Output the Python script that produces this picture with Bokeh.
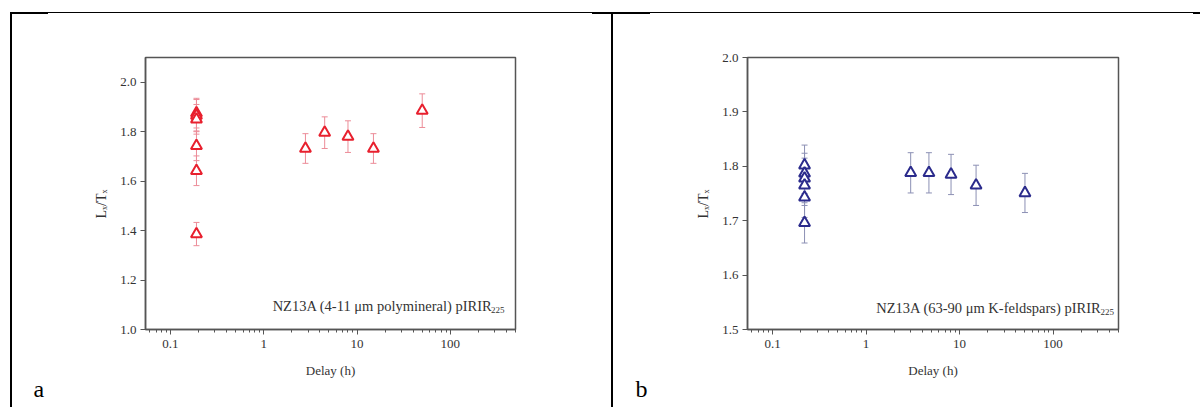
import math
from bokeh.plotting import figure
from bokeh.models import (ColumnDataSource, Whisker, TeeHead, FixedTicker, Title,
                          CustomJSTickFormatter, PrintfTickFormatter, Label)
from bokeh.layouts import row
from bokeh.embed import file_html
from bokeh.resources import INLINE

# ---- data ----
delay_a = [0.19, 0.19, 0.19, 0.19, 0.19, 0.19, 2.8, 4.5, 8.0, 15.0, 50.0]
ratio_a = [1.875, 1.865, 1.850, 1.743, 1.642, 1.386, 1.732, 1.796, 1.780, 1.732, 1.885]
err_a = [0.060, 0.065, 0.060, 0.060, 0.060, 0.047, 0.060, 0.064, 0.064, 0.060, 0.068]

delay_b = [0.22, 0.22, 0.22, 0.22, 0.22, 0.22, 3.0, 4.7, 8.1, 15.0, 50.0]
ratio_b = [1.802, 1.787, 1.778, 1.765, 1.743, 1.696, 1.788, 1.788, 1.785, 1.765, 1.751]
err_b = [0.037, 0.037, 0.037, 0.037, 0.037, 0.037, 0.037, 0.037, 0.037, 0.037, 0.036]

x_ticks = [0.1, 1, 10, 100]
y_ticks_a = [1.0, 1.2, 1.4, 1.6, 1.8, 2.0]
y_ticks_b = [1.5, 1.6, 1.7, 1.8, 1.9, 2.0]

note_a = "NZ13A (4-11 \u03bcm polymineral) pIRIR"
note_b = "NZ13A (63-90 \u03bcm K-feldspars) pIRIR"
note_sub = "225"
x_title = "Delay (h)"
y_title = "L\u2093/T\u2093"

H = 407
FONT = "Liberation Serif"
FT, FB = 57, 329          # frame top / bottom on canvas
FL = 145                  # frame left on canvas

minor = []
for dec in [0.01, 0.1, 1, 10, 100]:
    for m in range(2, 10):
        v = m * dec
        if 0.054 < v < 500.5:
            minor.append(round(v, 4))


def txt(p, cx, cy, s, size, align="left", baseline="alphabetic", color="#333333"):
    p.add_layout(Label(x=cx - FL, y=FB - cy, x_units="screen", y_units="screen", text=s,
                       text_font=FONT, text_font_size=f"{size}px", text_align=align,
                       text_baseline=baseline, text_color=color))


def line_bg(lines):
    n = len(lines)
    return {
        "background-color": "white",
        "background-image": ", ".join(["linear-gradient(#000, #000)"] * n),
        "background-position": ", ".join(f"{x}px {y}px" for x, y, w, h in lines),
        "background-size": ", ".join(f"{w}px {h}px" for x, y, w, h in lines),
        "background-repeat": "no-repeat",
    }


def letter_title(letter):
    kw = dict(text=letter, align="left", offset=-112, text_font=FONT,
              text_font_size="24px", text_font_style="normal", text_color="black")
    try:
        return Title(standoff=-13, **kw)
    except Exception:
        return Title(standoff=0, **kw)


def make_panel(width, right_border, delays, ratios, errs, yr, yticks, mcolor, ecolor, lines, letter):
    p = figure(width=width, height=H, x_axis_type="log", x_range=(0.054, 500), y_range=yr,
               output_backend="svg", toolbar_location=None,
               min_border_left=FL, min_border_right=right_border,
               min_border_top=FT, min_border_bottom=H - FB,
               styles=line_bg(lines))
    p.background_fill_color = "white"
    p.border_fill_color = None
    p.xgrid.visible = False
    p.ygrid.visible = False
    p.outline_line_color = "#555555"
    p.outline_line_width = 1.5

    src = ColumnDataSource(dict(x=delays, y=ratios,
                                lo=[r - e for r, e in zip(ratios, errs)],
                                hi=[r + e for r, e in zip(ratios, errs)]))
    w = Whisker(base="x", lower="lo", upper="hi", source=src, line_color=ecolor, line_width=1,
                upper_head=TeeHead(size=6, line_color=ecolor, line_width=1),
                lower_head=TeeHead(size=6, line_color=ecolor, line_width=1))
    p.add_layout(w)
    p.scatter("x", "y", source=src, marker="triangle", size=11, fill_color="white",
              line_color=mcolor, line_width=2)

    xa = p.xaxis[0]
    xa.ticker = FixedTicker(ticks=x_ticks, minor_ticks=minor)
    xa.formatter = CustomJSTickFormatter(code="return String(tick)")
    xa.axis_label = x_title
    ya = p.yaxis[0]
    ya.ticker = FixedTicker(ticks=yticks)
    ya.formatter = PrintfTickFormatter(format="%.1f")
    ya.axis_label = y_title + "\u00a0" * 6
    for ax in (xa, ya):
        ax.axis_line_color = "#555555"
        ax.axis_line_width = 1.5
        ax.major_tick_line_color = "#555555"
        ax.minor_tick_line_color = "#555555"
        ax.major_tick_in = 0
        ax.major_tick_out = 5
        ax.minor_tick_in = 0
        ax.minor_tick_out = 3
        ax.major_label_text_font = FONT
        ax.major_label_text_font_size = "13px"
        ax.major_label_text_color = "#333333"
        ax.axis_label_text_font = FONT
        ax.axis_label_text_font_size = "14px"
        ax.axis_label_text_font_style = "normal"
        ax.axis_label_text_color = "#333333"
    xa.axis_label_text_font_size = "13px"
    ya.minor_tick_line_color = None
    xa.major_label_standoff = 5
    xa.axis_label_standoff = 12
    ya.major_label_standoff = 4
    ya.axis_label_standoff = 8

    p.add_layout(letter_title(letter), "below")
    return p


lines_a = [(11, 12, 591, 1), (11, 12, 37, 2), (592, 12, 10, 2), (10, 12, 2, 395)]
lines_b = [(0, 12, 598, 1), (0, 12, 48, 2), (591, 12, 7, 2), (9, 12, 2, 395)]

pa = make_panel(602, 602 - 515, delay_a, ratio_a, err_a, (1.0, 2.1), y_ticks_a,
                "#e8202e", "#ec8c98", lines_a, "a")
pb = make_panel(598, 598 - 516, delay_b, ratio_b, err_b, (1.5, 2.0), y_ticks_b,
                "#2b2b8c", "#8c90b4", lines_b, "b")

# annotations inside frames
txt(pa, 492, 305, note_a, 14.5, align="right")
txt(pa, 490.5, 309, note_sub, 9, align="left")
txt(pb, 499, 307, note_b, 14.5, align="right")
txt(pb, 498, 311, note_sub, 9, align="left")

layout = row(pa, pb, spacing=0)
open("out.html", "w").write(file_html(layout, INLINE))
